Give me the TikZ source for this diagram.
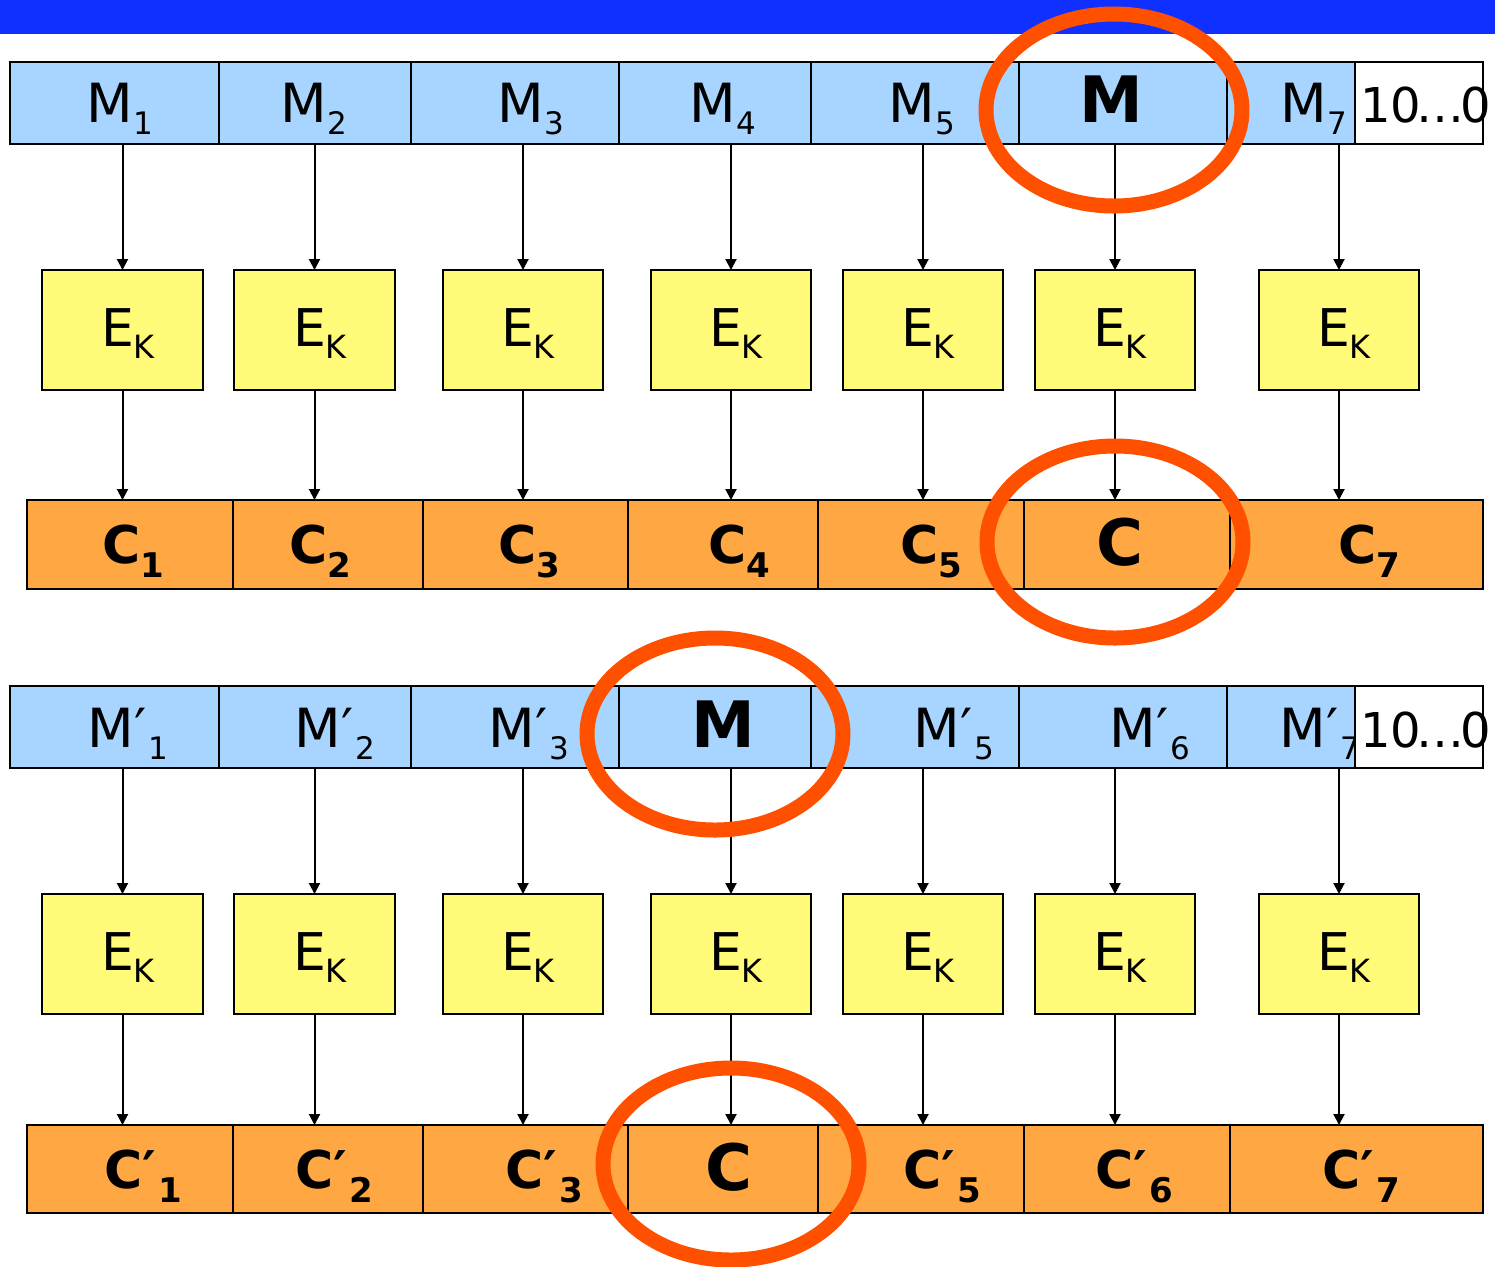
\documentclass[tikz,border=0pt]{standalone}
\usepackage{fontspec}
\setmainfont{DejaVu Sans}
\usetikzlibrary{arrows.meta,fit}

\definecolor{barblue}{HTML}{1030FF}
\definecolor{msgblue}{HTML}{A8D5FF}
\definecolor{encyellow}{HTML}{FFFA78}
\definecolor{ctorange}{HTML}{FFA843}
\definecolor{ringred}{HTML}{FF5000}

% label builders
\newcommand\bigfont{\fontsize{27}{27}\selectfont}
\newcommand\subfont{\fontsize{15.5}{15.5}\selectfont}
\newcommand\Mlab[1]{\bigfont M\raisebox{-6pt}{\subfont #1}}
\newcommand\Mplab[1]{\bigfont M′\kern1pt\raisebox{-6pt}{\subfont #1}}
\newcommand\Eklab{\fontsize{26}{26}\selectfont E\raisebox{-6pt}{\fontsize{16}{16}\selectfont K}}
\newcommand\Clab[1]{\fontsize{26}{26}\selectfont\bfseries C\raisebox{-7pt}{\fontsize{17}{17}\selectfont #1}}
\newcommand\Cplab[1]{\fontsize{26}{26}\selectfont\bfseries C′\kern1pt\raisebox{-7pt}{\fontsize{17}{17}\selectfont #1}}
\newcommand\Hlab[1]{\fontsize{32}{32}\selectfont\bfseries #1}
\newcommand\padlab{\fontsize{24}{24}\selectfont 10\kern-0.09em…\kern-0.09em0}

\begin{document}
\begin{tikzpicture}[x=0.5pt,y=-0.5pt,
  blk/.style={draw=black, line width=1.1pt, inner sep=0pt, outer sep=0pt},
  msg/.style={blk, fill=msgblue},
  pad/.style={blk, fill=white},
  enc/.style={blk, fill=encyellow},
  ct/.style={blk, fill=ctorange},
  lab/.style={anchor=base, inner sep=0pt, outer sep=0pt},
  flow/.style={-{Triangle[length=5.5pt,width=5.5pt]}, line width=1pt},
  ring/.style={draw=ringred, line width=7.5pt}]
\useasboundingbox (0,0) rectangle (1495,1266);

% title bar
\fill[barblue] (0,0) rectangle (1495,34);

% ---------- upper chain ----------
\foreach \n/\a/\b in {1/10/219,2/219/411,3/411/619,4/619/811,5/811/1019,6/1019/1227,7/1227/1355}
  \node[msg, fit={(\a,62) (\b,144)}] (m\n) {};
\foreach \n/\a/\b in {1/42/203,2/234/395,3/443/603,4/651/811,5/843/1003,6/1035/1195,7/1259/1419}
  \node[enc, fit={(\a,270) (\b,390)}] (e\n) {};
\foreach \n/\a/\b in {1/27/233,2/233/423,3/423/628,4/628/818,5/818/1024,6/1024/1230,7/1230/1483}
  \node[ct, fit={(\a,500) (\b,589)}] (c\n) {};

\node[lab] (tm1) at (120,122) {\Mlab{1}};
\node[lab] (tm2) at (314,122) {\Mlab{2}};
\node[lab] (tm3) at (531,122) {\Mlab{3}};
\node[lab] (tm4) at (723,122) {\Mlab{4}};
\node[lab] (tm5) at (922,122) {\Mlab{5}};
\node[lab] (tm6) at (1111,122) {\Hlab{M}};
\node[lab] (tm7) at (1314,122) {\Mlab{7}};
\node[pad, fit={(1355,62) (1483,144)}] (mpad) {};
\node[lab, anchor=base west] (tpad) at (1360,122) {\padlab};

\foreach \n/\x in {1/128,2/320,3/528,4/736,5/928,6/1120,7/1344}
  \node[lab] (te\n) at (\x,346) {\Eklab};

\node[lab] (tc1) at (133,563) {\Clab{1}};
\node[lab] (tc2) at (320,563) {\Clab{2}};
\node[lab] (tc3) at (529,563) {\Clab{3}};
\node[lab] (tc4) at (739,563) {\Clab{4}};
\node[lab] (tc5) at (931,563) {\Clab{5}};
\node[lab] (tc6) at (1120,565) {\Hlab{C}};
\node[lab] (tc7) at (1369,563) {\Clab{7}};

\foreach \n in {1,...,7} {
  \draw[flow] (e\n |- m\n.south) -- (e\n.north);
  \draw[flow] (e\n.south) -- (e\n |- c\n.north);
}

% ---------- lower chain ----------
\foreach \n/\a/\b in {1/10/219,2/219/411,3/411/619,4/619/811,5/811/1019,6/1019/1227,7/1227/1355}
  \node[msg, fit={(\a,686) (\b,768)}] (bm\n) {};
\foreach \n/\a/\b in {1/42/203,2/234/395,3/443/603,4/651/811,5/843/1003,6/1035/1195,7/1259/1419}
  \node[enc, fit={(\a,894) (\b,1014)}] (be\n) {};
\foreach \n/\a/\b in {1/27/233,2/233/423,3/423/628,4/628/818,5/818/1024,6/1024/1230,7/1230/1483}
  \node[ct, fit={(\a,1125) (\b,1213)}] (bc\n) {};

\node[lab] (bm1t) at (128,747) {\Mplab{1}};
\node[lab] (bm2t) at (335,747) {\Mplab{2}};
\node[lab] (bm3t) at (529,747) {\Mplab{3}};
\node[lab] (bm4t) at (723,747) {\Hlab{M}};
\node[lab] (bm5t) at (954,747) {\Mplab{5}};
\node[lab] (bm6t) at (1150,747) {\Mplab{6}};
\node[lab] (bm7t) at (1320,747) {\Mplab{7}};
\node[pad, fit={(1355,686) (1483,768)}] (bmpad) {};
\node[lab, anchor=base west] (bpad) at (1360,747) {\padlab};

\foreach \n/\x in {1/128,2/320,3/528,4/736,5/928,6/1120,7/1344}
  \node[lab] (be\n t) at (\x,970) {\Eklab};

\node[lab] (bc1t) at (143,1188) {\Cplab{1}};
\node[lab] (bc2t) at (334,1188) {\Cplab{2}};
\node[lab] (bc3t) at (544,1188) {\Cplab{3}};
\node[lab] (bc4t) at (729,1190) {\Hlab{C}};
\node[lab] (bc5t) at (942,1188) {\Cplab{5}};
\node[lab] (bc6t) at (1134,1188) {\Cplab{6}};
\node[lab] (bc7t) at (1361,1188) {\Cplab{7}};

\foreach \n in {1,...,7} {
  \draw[flow] (be\n |- bm\n.south) -- (be\n.north);
  \draw[flow] (be\n.south) -- (be\n |- bc\n.north);
}

% highlight rings
\draw[ring] (1114,110) ellipse [x radius=64pt, y radius=48pt];
\draw[ring] (1115,542) ellipse [x radius=64pt, y radius=48pt];
\draw[ring] (715,734) ellipse [x radius=64pt, y radius=48pt];
\draw[ring] (731,1164) ellipse [x radius=64pt, y radius=48pt];
\end{tikzpicture}
\end{document}
